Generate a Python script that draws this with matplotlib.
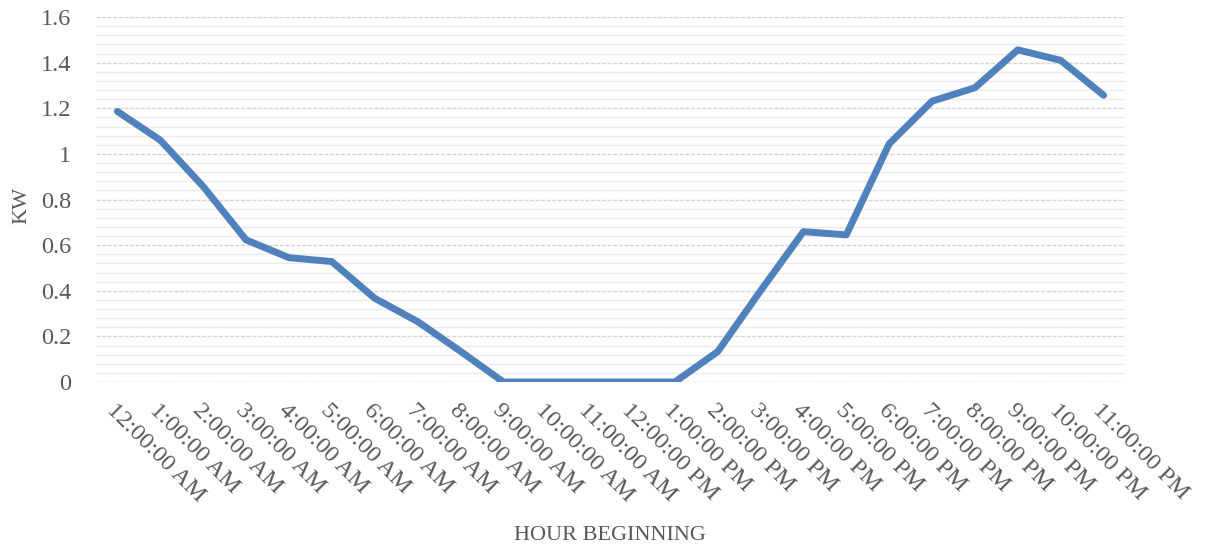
import matplotlib.pyplot as plt
import numpy as np
from matplotlib.ticker import MultipleLocator

# hourly load profile
hours = ["12:00:00 AM", "1:00:00 AM", "2:00:00 AM", "3:00:00 AM", "4:00:00 AM",
         "5:00:00 AM", "6:00:00 AM", "7:00:00 AM", "8:00:00 AM", "9:00:00 AM",
         "10:00:00 AM", "11:00:00 AM", "12:00:00 PM", "1:00:00 PM", "2:00:00 PM",
         "3:00:00 PM", "4:00:00 PM", "5:00:00 PM", "6:00:00 PM", "7:00:00 PM",
         "8:00:00 PM", "9:00:00 PM", "10:00:00 PM", "11:00:00 PM"]
kw = [1.186, 1.06, 0.857, 0.623, 0.545, 0.528, 0.367, 0.265, 0.135, 0.0,
      0.0, 0.0, 0.0, 0.0, 0.133, 0.40, 0.659, 0.645, 1.044, 1.231,
      1.29, 1.456, 1.41, 1.257]

grey = '#595959'
plt.rcParams['font.family'] = ['Liberation Serif', 'DejaVu Serif']

fig = plt.figure(figsize=(12.09, 5.48), dpi=100)
ax = fig.add_axes([96/1209, 1-382/548, (1125-96)/1209, (382-17)/548])

x = np.arange(len(hours))
ax.plot(x, kw, color='#4F81BD', linewidth=5, solid_capstyle='round', solid_joinstyle='round', zorder=3)

ax.set_xlim(-0.5, len(hours) - 0.5)
ax.set_ylim(0, 1.6)
ax.yaxis.set_minor_locator(MultipleLocator(0.04))
ax.set_yticks([0, 0.2, 0.4, 0.6, 0.8, 1.0, 1.2, 1.4, 1.6])
ax.set_yticklabels(['0', '0.2', '0.4', '0.6', '0.8', '1', '1.2', '1.4', '1.6'])
ax.grid(which='major', axis='y', color='#D6D6D6', linewidth=1.0, linestyle=(0, (3, 1)))
ax.grid(which='minor', axis='y', color='#EBEBEB', linewidth=1.0)
ax.set_axisbelow(True)

ax.set_xticks(x)
ax.set_xticklabels(hours, rotation=-45, ha='left', va='top', rotation_mode='anchor')
ax.tick_params(axis='both', which='both', length=0, colors=grey, labelsize=17.5)
ax.tick_params(axis='x', pad=13)
ax.tick_params(axis='y', pad=18)

for s in ax.spines.values():
    s.set_visible(False)

fig.text(610/1209, 1-535/548, 'HOUR BEGINNING', ha='center', va='center', color=grey, fontsize=16)
fig.text(22/1209, 1-205/548, 'KW', ha='center', va='center', rotation=90, color=grey, fontsize=16)

fig.savefig('out.png', dpi=100)
